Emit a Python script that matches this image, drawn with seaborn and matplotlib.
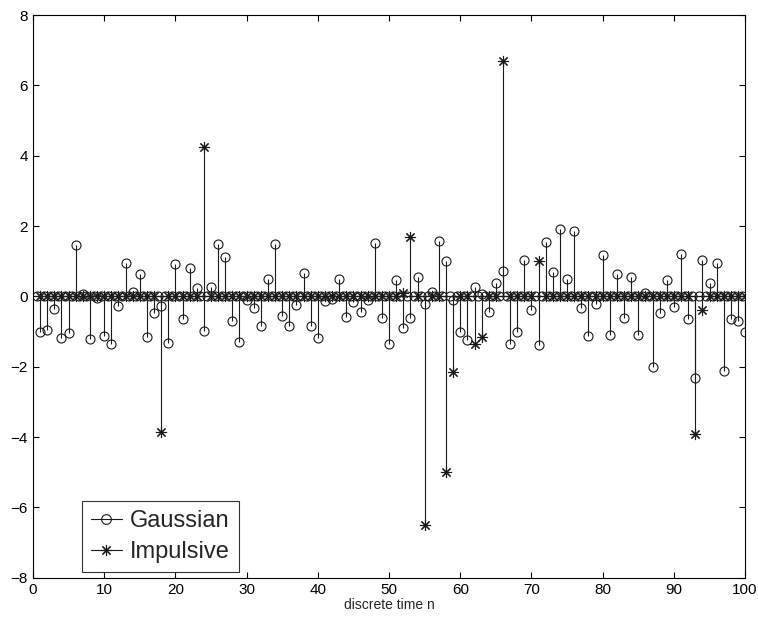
import matplotlib
matplotlib.use("Agg")
import matplotlib.pyplot as plt
import numpy as np
import seaborn as sns
from matplotlib.lines import Line2D

# discrete time index
n = np.arange(1, 101)

# Gaussian noise samples
gaussian = [
    -1.00, -0.94, -0.37, -1.18, -1.05, 1.46, 0.08, -1.21, -0.05, -1.12,
    -1.34, -0.26, 0.95, 0.14, 0.63, -1.16, -0.46, -0.27, -1.33, 0.92,
    -0.64, 0.80, 0.24, -0.99, 0.28, 1.48, 1.13, -0.69, -1.29, -0.09,
    -0.33, -0.83, 0.49, 1.49, -0.55, -0.83, -0.25, 0.66, -0.83, -1.19,
    -0.13, -0.07, 0.49, -0.59, -0.17, -0.43, -0.09, 1.53, -0.60, -1.34,
    0.47, -0.90, -0.62, 0.54, -0.20, 0.14, 1.59, 1.01, -0.09, -1.02,
    -1.23, 0.27, 0.06, -0.45, 0.37, 0.72, -1.34, -1.02, 1.03, -0.39,
    -1.37, 1.55, 0.70, 1.93, 0.49, 1.86, -0.34, -1.13, -0.21, 1.17,
    -1.10, 0.63, -0.60, 0.54, -1.10, 0.09, -2.00, -0.48, 0.46, -0.31,
    1.22, -0.63, -2.32, 1.05, 0.38, 0.94, -2.11, -0.65, -0.70, -1.02,
]

# the Gaussian trace also shows zero samples half way between the integers
gaussian_zero_n = n - 0.5

# impulsive noise: zero except for a few spikes
impulse_n = [18, 24, 52, 53, 55, 58, 59, 62, 63, 66, 71, 93, 94]
impulse_val = [-3.85, 4.25, 0.11, 1.69, -6.5, -5.0, -2.14, -1.35, -1.16, 6.7, 1.00, -3.9, -0.38]

impulsive = np.zeros(len(n))
impulsive[np.array(impulse_n) - 1] = impulse_val

g_x = np.concatenate([gaussian_zero_n, n])
g_y = np.concatenate([np.zeros(len(gaussian_zero_n)), gaussian])
order = np.argsort(g_x, kind="stable")
g_x, g_y = g_x[order], g_y[order]

sns.set_theme(style="ticks")
plt.rcParams["font.family"] = ["Liberation Sans", "DejaVu Sans"]
plt.rcParams["axes.unicode_minus"] = True

fig = plt.figure(figsize=(7.58, 6.18), dpi=100)
ax = fig.add_axes([0.0435, 0.065, 0.9395, 0.9105])

star = (8, 2, 0)
lw = 0.8

ml, sl, bl = ax.stem(g_x, g_y, linefmt="k-", markerfmt="ko", basefmt="k-")
ml.set_markerfacecolor("none")
ml.set_markersize(6.5)
ml.set_markeredgewidth(lw)
sl.set_linewidth(lw)
bl.set_linewidth(lw)

ml2, sl2, bl2 = ax.stem(n, impulsive, linefmt="k-", markerfmt="k", basefmt="k-")
ml2.set_marker(star)
ml2.set_markersize(8)
ml2.set_markeredgewidth(lw)
sl2.set_linewidth(lw)
bl2.set_linewidth(lw)

ax.set_xlim(0, 100)
ax.set_ylim(-8, 8)
ax.set_xticks(np.arange(0, 101, 10))
ax.set_yticks(np.arange(-8, 9, 2))
ax.tick_params(direction="in", top=True, right=True, labelsize=11,
               length=4, width=lw, colors="black")
for side in ax.spines.values():
    side.set_visible(True)
    side.set_color("black")
    side.set_linewidth(lw)
ax.set_xlabel("discrete time n", fontsize=10, labelpad=1)

handles = [
    Line2D([0], [0], color="k", lw=lw, marker="o", markerfacecolor="none",
           markersize=7, markeredgewidth=lw),
    Line2D([0], [0], color="k", lw=lw, marker=star, markersize=8,
           markeredgewidth=lw),
]
leg = ax.legend(handles, ["Gaussian", "Impulsive"], loc="lower left",
                bbox_to_anchor=(0.069, 0.01), borderaxespad=0, fontsize=17,
                frameon=True, fancybox=False, edgecolor="black",
                handlelength=1.3, borderpad=0.38, labelspacing=0.38,
                handletextpad=0.35)
leg.get_frame().set_linewidth(lw)

fig.savefig("out.png", dpi=100, facecolor="white")
